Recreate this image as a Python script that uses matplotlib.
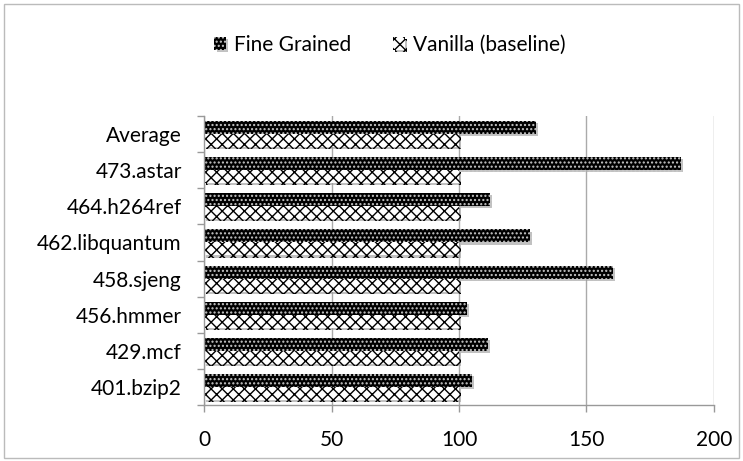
import matplotlib
matplotlib.use("Agg")
import matplotlib.pyplot as plt
import matplotlib.patheffects as pe
from matplotlib.patches import Rectangle
import numpy as np

plt.rcParams["font.family"] = ["Lato", "DejaVu Sans"]
plt.rcParams["hatch.linewidth"] = 1.0

# benchmarks, listed bottom to top
benchmarks = ["401.bzip2", "429.mcf", "456.hmmer", "458.sjeng",
              "462.libquantum", "464.h264ref", "473.astar", "Average"]
fine_grained = [105.2, 111.5, 103.3, 160.4, 128.0, 112.0, 187.0, 130.1]
vanilla = [100, 100, 100, 100, 100, 100, 100, 100]
x_ticks = [0, 50, 100, 150, 200]

fig = plt.figure(figsize=(7.43, 4.61), dpi=100)
ax = fig.add_axes([204 / 743, 1 - 405 / 461, 510 / 743, 289 / 461])

y = np.arange(len(benchmarks))
h = 0.36
shadow = [pe.SimplePatchShadow(offset=(1.5, -1.5), shadow_rgbFace="#999999", alpha=0.6),
          pe.Normal()]

fg = ax.barh(y + h / 2, fine_grained, height=h, color="#000000",
             edgecolor="#c8c8c8", hatch="....", linewidth=0, label="Fine Grained")
va = ax.barh(y - h / 2, vanilla, height=h, color="white",
             edgecolor="black", hatch="xxx", linewidth=0, label="Vanilla (baseline)")
for b in list(fg) + list(va):
    b.set_path_effects(shadow)

ax.set_xlim(0, 200)
ax.set_ylim(-0.5, len(benchmarks) - 0.5)
ax.set_xticks(x_ticks)
ax.set_xticklabels([str(t) for t in x_ticks], fontsize=15)
ax.set_yticks(y)
ax.set_yticklabels(benchmarks, fontsize=15)
ax.set_yticks(np.arange(len(benchmarks) + 1) - 0.5, minor=True)

ax.tick_params(axis="y", which="major", length=0, pad=16)
ax.tick_params(axis="y", which="minor", length=5, color="#999999", width=1)
ax.tick_params(axis="x", length=5, color="#999999", width=1, pad=13)

ax.grid(axis="x", color="#aaaaaa", linewidth=1)
ax.set_axisbelow(True)
for s in ["top", "right"]:
    ax.spines[s].set_visible(False)
for s in ["left", "bottom"]:
    ax.spines[s].set_color("#999999")
    ax.spines[s].set_linewidth(1)

ax.legend(loc="center", bbox_to_anchor=(390 / 743, 1 - 45 / 461),
          bbox_transform=fig.transFigure, ncol=2, frameon=False,
          fontsize=15, handlelength=0.55, handleheight=0.55,
          handletextpad=0.4, columnspacing=2.0)

# chart area border
fig.patches.append(Rectangle((0.006, 0.006), 0.988, 0.985, transform=fig.transFigure,
                             fill=False, edgecolor="#bbbbbb", linewidth=1))

fig.savefig("out.png", dpi=100)
